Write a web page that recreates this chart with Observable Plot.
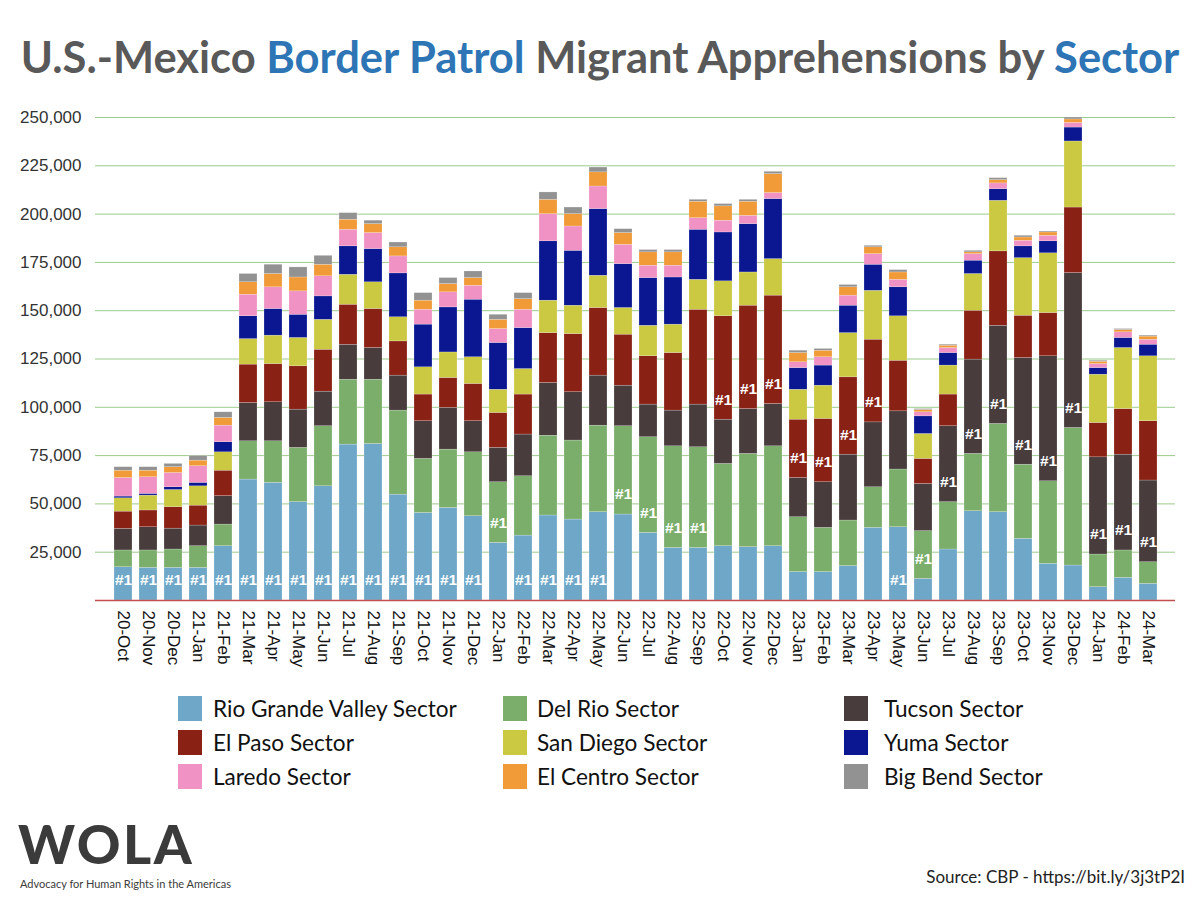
<!DOCTYPE html>
<html>
<head>
<meta charset="utf-8">
<script src="https://cdn.jsdelivr.net/npm/d3@7"></script>
<script src="https://cdn.jsdelivr.net/npm/@observablehq/plot@0.6"></script>
<style>
  html, body { margin: 0; padding: 0; background: #fff; }
  #wrap { position: relative; width: 1200px; height: 900px; overflow: hidden; font-family: Lato, "Noto Sans", sans-serif; }
  #chart { position: absolute; left: 0; top: 0; }
  #title { position: absolute; left: 0; top: 35px; width: 1200px; text-align: center; font: 700 43.5px/43px Lato, sans-serif; color: #595959; white-space: nowrap; }
  #title .b { color: #2e75b6; }
  .leg { position: absolute; display: flex; align-items: center; height: 25px; font: 400 22.6px Lato, sans-serif; color: #111; white-space: nowrap; }
  .sw { position: absolute; width: 24px; height: 25px; }
  #logo { position: absolute; left: 18px; top: 822px; font: 900 54px/44px Lato, sans-serif; color: #3b3b3b; letter-spacing: 2.5px; }
  #tag { position: absolute; left: 20px; top: 877px; font: 400 11px/13px Lato, sans-serif; color: #3b3b3b; white-space: nowrap; }
  #source { position: absolute; right: 15px; top: 866px; font: 400 17px Lato, sans-serif; color: #222; white-space: nowrap; }
</style>
</head>
<body>
<div id="wrap">
  <div id="chart"></div>
  <div id="title">U.S.-Mexico <span class="b">Border Patrol</span> Migrant Apprehensions by <span class="b">Sector</span></div>
  <div id="legend"></div>
  <div id="logo">WOLA</div>
  <div id="tag">Advocacy for Human Rights in the Americas</div>
  <div id="source">Source: CBP - https://bit.ly/3j3tP2I</div>
</div>
<script>
const months = ["20-Oct","20-Nov","20-Dec","21-Jan","21-Feb","21-Mar","21-Apr","21-May","21-Jun","21-Jul","21-Aug","21-Sep",
  "21-Oct","21-Nov","21-Dec","22-Jan","22-Feb","22-Mar","22-Apr","22-May","22-Jun","22-Jul","22-Aug","22-Sep",
  "22-Oct","22-Nov","22-Dec","23-Jan","23-Feb","23-Mar","23-Apr","23-May","23-Jun","23-Jul","23-Aug","23-Sep",
  "23-Oct","23-Nov","23-Dec","24-Jan","24-Feb","24-Mar"];

const sectors = ["Rio Grande Valley Sector","Del Rio Sector","Tucson Sector","El Paso Sector","San Diego Sector",
  "Yuma Sector","Laredo Sector","El Centro Sector","Big Bend Sector"];
const sectorColors = ["#6fa7c8","#7bae6b","#483c3c","#8a2115","#cbc842","#0a1790","#f092c4","#f09a38","#929292"];

const rioGrandeValley = [17200,16900,16900,16900,28100,62600,60900,50900,59100,80700,81000,54800,
  45300,47900,43600,29800,33600,44000,41900,45700,44500,35000,27200,27200,
  28100,27600,28100,14700,14700,17800,37600,37900,11200,26400,46200,45700,
  31900,19000,18100,6900,11700,8600];
const delRio = [8700,9000,9500,11200,11200,19800,21500,28100,31100,33600,33300,43500,
  28000,30200,33100,31400,30700,41300,40900,44800,45700,49500,52600,52100,
  42600,48300,51700,28400,22900,23600,21000,29900,24700,24500,29700,45700,
  38400,42700,71200,16900,14200,11200];
const tucson = [11200,12000,10800,10700,14700,19800,20200,19800,17900,18100,16400,18100,
  19500,21600,16100,17800,21600,27300,25000,25900,21000,16900,18500,22100,
  22900,23200,21900,20300,23600,34100,33600,30100,24400,39300,48800,50800,
  55200,64700,80200,50300,49600,42300];
const elPaso = [8900,8700,11100,10300,13200,19900,19800,22400,21700,20700,20200,17700,
  13800,15500,19300,18100,20700,25800,30100,35000,26400,25000,29800,49100,
  53500,53500,56100,30200,32800,40000,42800,26200,13000,16400,25300,38500,
  21900,22400,33900,17800,23600,30700];
const sanDiego = [6900,7700,8900,10000,9500,13200,14700,14700,15500,15500,13800,12500,
  14100,13200,13800,12000,13200,16800,14700,16700,13800,15800,14700,15500,
  18100,17200,18900,15500,17200,22900,25300,23000,12900,15000,19000,26200,
  29800,30900,34200,25000,31600,33600];
const yuma = [900,900,1400,1800,5200,11800,13800,12000,12100,14700,17200,22700,
  22100,23300,29800,24200,21200,30700,28400,34500,22700,24700,24400,25900,
  25300,25000,31100,11200,10400,14200,13500,15000,9100,6500,6900,6000,
  6100,6200,7200,3400,5200,6000];
const laredo = [9600,8600,7400,8600,8600,11200,11200,12100,10400,8600,8300,8800,
  7700,7800,7200,7200,9500,14100,12600,11700,10000,6400,6100,6000,
  6100,4300,3100,3000,4300,5200,5500,3900,2100,2600,3400,3000,
  2900,2900,2400,2100,2900,2600];
const elCentro = [3800,3400,3000,2900,4000,6400,6900,7200,6000,5200,4600,4700,
  4700,4300,4000,4800,5500,7400,6400,7300,6100,6900,6900,8500,
  7400,7300,9800,4800,3400,4300,3500,3800,1200,1200,900,1700,
  1700,1700,1800,1200,1200,1600];
const bigBend = [1800,1800,1700,2400,2900,4300,4800,5200,4600,3400,1800,2500,
  3900,3100,3400,2600,3100,3800,3400,2500,2000,1200,1200,1000,
  1200,1000,1200,1200,900,1200,800,1200,500,500,800,1000,
  900,500,1000,500,500,500];

const yTicks = [25000,50000,75000,100000,125000,150000,175000,200000,225000,250000];

const series = [rioGrandeValley, delRio, tucson, elPaso, sanDiego, yuma, laredo, elCentro, bigBend];

const rows = months.flatMap((m, i) => sectors.map((s, j) => ({month: m, sector: s, value: series[j][i]})));

// "#1" label: the largest sector of each month, placed near the base of its segment
const topLabels = months.map((m, i) => {
  let best = 0;
  series.forEach((arr, j) => { if (arr[i] > series[best][i]) best = j; });
  let base = 0;
  for (let k = 0; k < best; k++) base += series[k][i];
  return {month: m, base, sector: sectors[best]};
});

const chart = Plot.plot({
  width: 1200,
  height: 690,
  marginTop: 117,
  marginBottom: 90,
  marginLeft: 95,
  marginRight: 25,
  style: {fontFamily: "'Liberation Sans', Arial, sans-serif", background: "transparent", overflow: "visible"},
  x: {domain: months, paddingInner: 0.29, paddingOuter: 0.145, label: null},
  y: {domain: [0, 250000], label: null},
  color: {domain: sectors, range: sectorColors},
  marks: [
    Plot.gridY(yTicks, {stroke: "#9ccb8b", strokeOpacity: 1, strokeWidth: 1}),
    Plot.barY(rows, {x: "month", y: "value", fill: "sector", order: sectors, stroke: "#ffffff", strokeWidth: 0.4, strokeOpacity: 0.5}),
    Plot.ruleY([0], {stroke: "#c0504d", strokeWidth: 1.5}),
    Plot.text(topLabels, {x: "month", y: "base", text: () => "#1", dy: -20, fill: "white", fontWeight: "bold", fontSize: 15.5}),
    Plot.axisY(yTicks, {tickSize: 0, tickPadding: 14, tickFormat: d3.format(","), fontSize: 17, fill: "#333", label: null}),
    Plot.axisX({tickSize: 0, tickPadding: 10, tickRotate: 90, fontSize: 17, fill: "#111", label: null})
  ]
});
document.getElementById("chart").appendChild(chart);

// legend (HTML, below the SVG)
const legend = document.getElementById("legend");
const colSwatchX = [178, 503, 844];
const colTextX = [213, 537, 884];
sectors.forEach((s, k) => {
  const col = k % 3, row = Math.floor(k / 3);
  const top = 696 + row * 34;
  const sw = document.createElement("div");
  sw.className = "sw";
  sw.style.left = colSwatchX[col] + "px";
  sw.style.top = top + "px";
  sw.style.background = sectorColors[k];
  legend.appendChild(sw);
  const t = document.createElement("div");
  t.className = "leg";
  t.style.left = colTextX[col] + "px";
  t.style.top = top + "px";
  t.textContent = s;
  legend.appendChild(t);
});
</script>
</body>
</html>
